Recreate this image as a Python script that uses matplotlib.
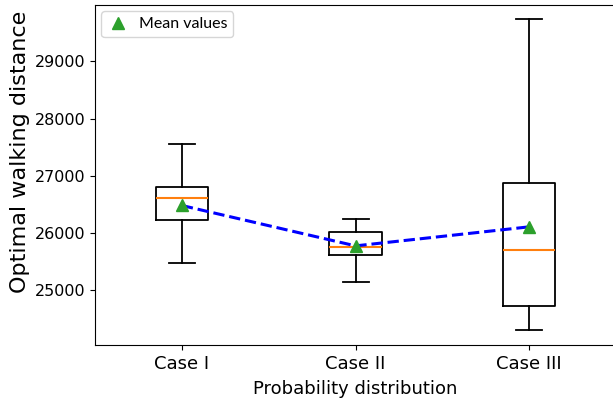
import matplotlib
matplotlib.use("Agg")
import matplotlib.pyplot as plt

# ── Data ──────────────────────────────────────────────────────────────────
cases = ["Case I", "Case II", "Case III"]
whisker_low = [25470, 25130, 24300]
q1 = [26230, 25615, 24720]
medians = [26605, 25743, 25703]
q3 = [26798, 26019, 26863]
whisker_high = [27561, 26242, 29745]
means = [26476, 25768, 26102]
# ─────────────────────────────────────────────────────────────────────────

stats = []
for i, name in enumerate(cases):
    stats.append(dict(label=name, whislo=whisker_low[i], q1=q1[i], med=medians[i],
                      q3=q3[i], whishi=whisker_high[i], fliers=[]))

fig = plt.figure(figsize=(6.13, 4.01), dpi=100)
ax = fig.add_axes([0.155, 0.14, 0.85, 0.8475])

pos = list(range(1, len(cases) + 1))
lw = 1.3
ax.bxp(stats, positions=pos, widths=0.3, showfliers=False,
       boxprops=dict(linewidth=lw, color='black'),
       whiskerprops=dict(linewidth=lw, color='black'),
       capprops=dict(linewidth=lw, color='black'),
       medianprops=dict(linewidth=lw + 0.2, color='#ff7f0e'))

ax.plot(pos, means, 'b--', linewidth=2.2, zorder=3)
ax.plot(pos, means, linestyle='none', marker='^', markersize=9,
        color='#2ca02c', label='Mean values', zorder=4)

ax.set_xlim(0.5, 3.5)
ax.set_ylim(24033, 29990)
ax.spines['right'].set_visible(False)

ax.set_xticks(pos)
ax.set_xticklabels(cases, fontsize=13)
ax.tick_params(axis='y', labelsize=11.5)
ax.set_xlabel('Probability distribution', fontsize=13, labelpad=5)
ax.set_ylabel('Optimal walking distance', fontsize=16)
ax.yaxis.set_label_coords(-0.125, 0.568)

ax.legend(loc='upper left', prop={'family': 'Lato', 'size': 11.5},
          handletextpad=0.6, borderpad=0.35, handlelength=1.4,
          borderaxespad=0.4)

fig.savefig('out.png', dpi=100)
